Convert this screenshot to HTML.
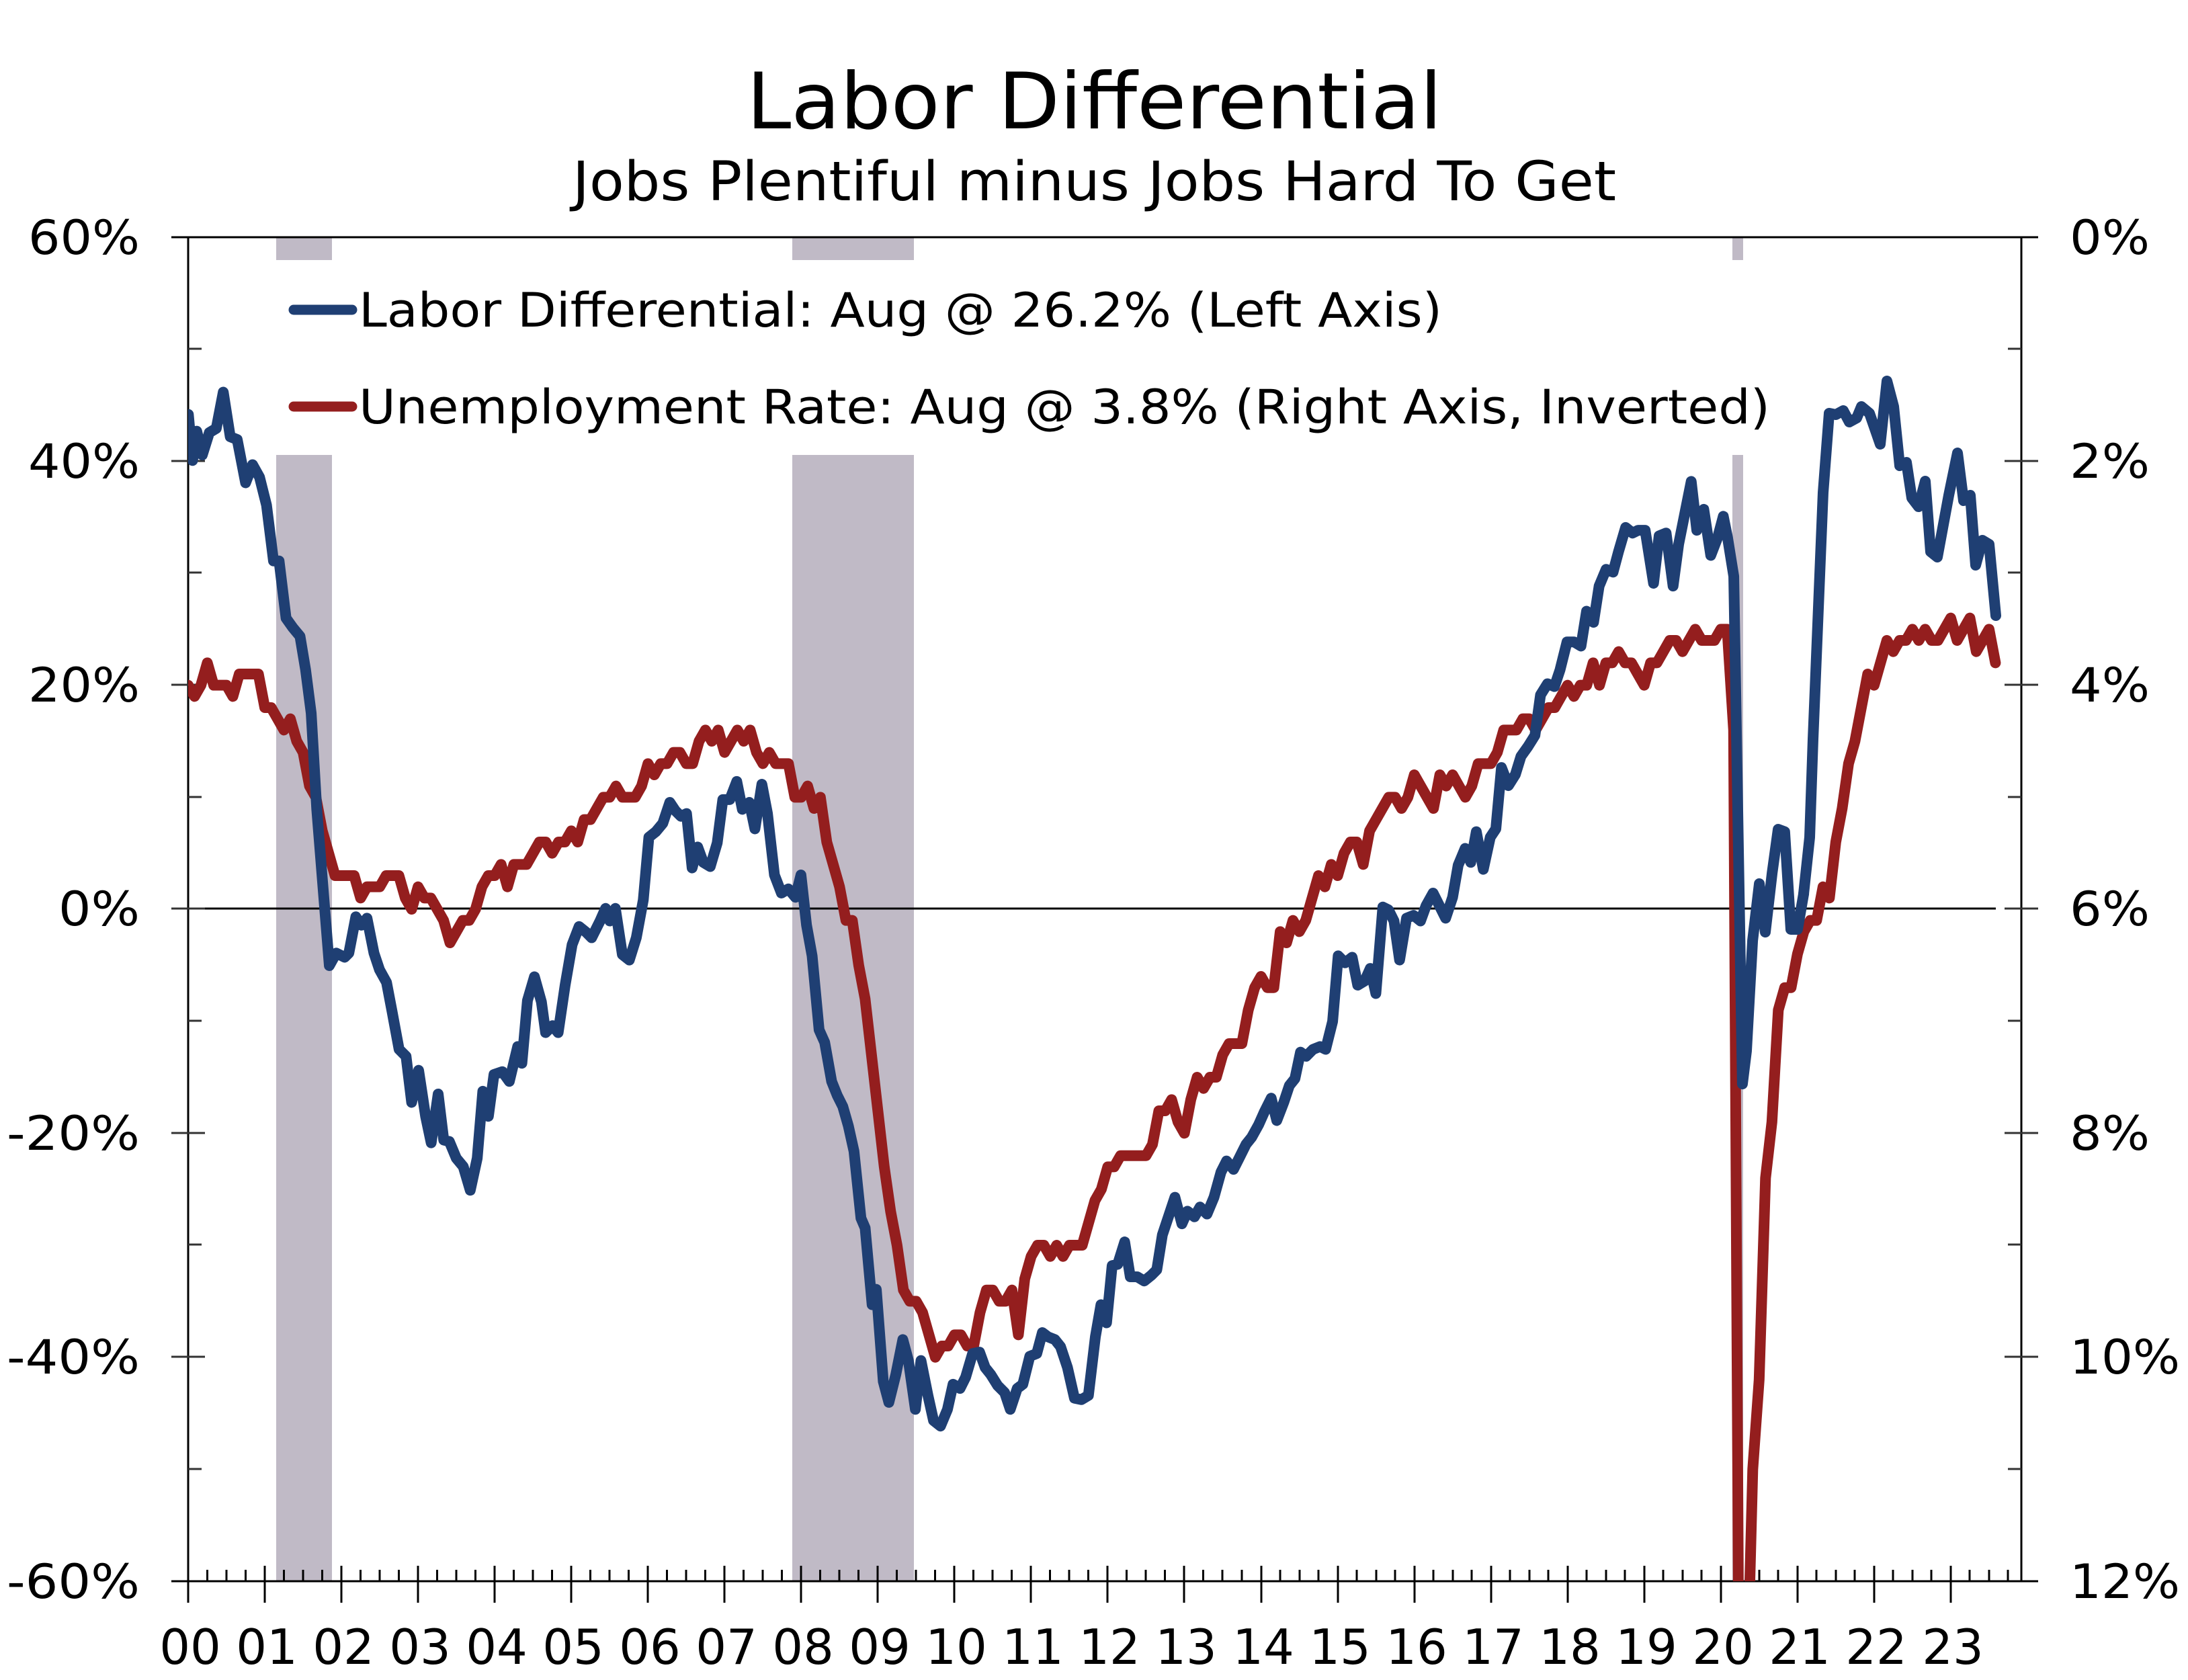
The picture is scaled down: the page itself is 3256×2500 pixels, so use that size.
<!DOCTYPE html>
<html><head><meta charset="utf-8"><style>
html,body{margin:0;padding:0;background:#fff;width:3256px;height:2500px;overflow:hidden}
svg{display:block;position:absolute;left:0;top:0}
text{font-family:"DejaVu Sans","Liberation Sans",sans-serif;fill:#000}
</style></head><body>
<svg width="3256" height="2500" viewBox="0 0 3256 2500" xmlns="http://www.w3.org/2000/svg">
<defs><clipPath id="pc"><rect x="280" y="353" width="2728" height="2000"/></clipPath></defs>
<g fill="#c0bac6">
<rect x="411" y="354" width="83" height="33"/><rect x="411" y="677" width="83" height="1676"/>
<rect x="1179" y="354" width="181" height="33"/><rect x="1179" y="677" width="181" height="1676"/>
<rect x="2578" y="354" width="16" height="33"/><rect x="2578" y="677" width="16" height="1676"/>
</g>
<g stroke="#000" stroke-width="3" fill="none">
<line x1="255" y1="353" x2="3033" y2="353"/>
<line x1="280" y1="353" x2="280" y2="2385"/>
<line x1="3008" y1="353" x2="3008" y2="2353"/>
<line x1="255" y1="2353" x2="3033" y2="2353"/>
<line x1="280" y1="1352" x2="2970" y2="1352"/>
</g>
<g stroke="#333" stroke-width="3">
<line x1="255" y1="686" x2="305" y2="686"/><line x1="255" y1="1019" x2="305" y2="1019"/><line x1="255" y1="1352" x2="305" y2="1352"/><line x1="255" y1="1686" x2="305" y2="1686"/><line x1="255" y1="2019" x2="305" y2="2019"/>
<line x1="280" y1="519" x2="300" y2="519"/><line x1="280" y1="852" x2="300" y2="852"/><line x1="280" y1="1186" x2="300" y2="1186"/><line x1="280" y1="1519" x2="300" y2="1519"/><line x1="280" y1="1852" x2="300" y2="1852"/><line x1="280" y1="2186" x2="300" y2="2186"/>
<line x1="2983" y1="686" x2="3033" y2="686"/><line x1="2983" y1="1019" x2="3033" y2="1019"/><line x1="2983" y1="1352" x2="3033" y2="1352"/><line x1="2983" y1="1686" x2="3033" y2="1686"/><line x1="2983" y1="2019" x2="3033" y2="2019"/>
<line x1="2988" y1="519" x2="3008" y2="519"/><line x1="2988" y1="852" x2="3008" y2="852"/><line x1="2988" y1="1186" x2="3008" y2="1186"/><line x1="2988" y1="1519" x2="3008" y2="1519"/><line x1="2988" y1="1852" x2="3008" y2="1852"/><line x1="2988" y1="2186" x2="3008" y2="2186"/>
</g>
<g stroke="#000" stroke-width="3">
<path d="M280 2330V2385M394 2330V2385M508 2330V2385M622 2330V2385M736 2330V2385M850 2330V2385M964 2330V2385M1078 2330V2385M1192 2330V2385M1306 2330V2385M1420 2330V2385M1534 2330V2385M1648 2330V2385M1762 2330V2385M1877 2330V2385M1991 2330V2385M2105 2330V2385M2219 2330V2385M2333 2330V2385M2447 2330V2385M2561 2330V2385M2675 2330V2385M2789 2330V2385M2903 2330V2385"/>
<path d="M308.5 2336V2353M337 2336V2353M365.5 2336V2353M422.5 2336V2353M451 2336V2353M479.5 2336V2353M536.5 2336V2353M565 2336V2353M593.5 2336V2353M650.5 2336V2353M679 2336V2353M707.5 2336V2353M764.5 2336V2353M793 2336V2353M821.5 2336V2353M878.5 2336V2353M907 2336V2353M935.5 2336V2353M992.5 2336V2353M1021 2336V2353M1049.5 2336V2353M1106.5 2336V2353M1135 2336V2353M1163.5 2336V2353M1220.5 2336V2353M1249 2336V2353M1277.5 2336V2353M1334.5 2336V2353M1363 2336V2353M1391.5 2336V2353M1448.5 2336V2353M1477 2336V2353M1505.5 2336V2353M1562.5 2336V2353M1591 2336V2353M1619.5 2336V2353M1676.5 2336V2353M1705 2336V2353M1733.5 2336V2353M1790.5 2336V2353M1819 2336V2353M1848 2336V2353M1905 2336V2353M1934 2336V2353M1962 2336V2353M2019 2336V2353M2048 2336V2353M2076 2336V2353M2133 2336V2353M2162 2336V2353M2190 2336V2353M2247 2336V2353M2276 2336V2353M2304 2336V2353M2361 2336V2353M2390 2336V2353M2418 2336V2353M2475 2336V2353M2504 2336V2353M2532 2336V2353M2589 2336V2353M2618 2336V2353M2646 2336V2353M2703 2336V2353M2732 2336V2353M2760 2336V2353M2817 2336V2353M2846 2336V2353M2874 2336V2353M2931 2336V2353M2960 2336V2353M2988 2336V2353"/>
</g>
<g clip-path="url(#pc)" fill="none" stroke-linejoin="round" stroke-linecap="round">
<polyline transform="translate(280,353) scale(9.5033,166.67)" vector-effect="non-scaling-stroke" stroke="#941e1e" stroke-width="16" points="0,4.0 1,4.1 2,4.0 3,3.8 4,4.0 5,4.0 6,4.0 7,4.1 8,3.9 9,3.9 10,3.9 11,3.9 12,4.2 13,4.2 14,4.3 15,4.4 16,4.3 17,4.5 18,4.6 19,4.9 20,5.0 21,5.3 22,5.5 23,5.7 24,5.7 25,5.7 26,5.7 27,5.9 28,5.8 29,5.8 30,5.8 31,5.7 32,5.7 33,5.7 34,5.9 35,6.0 36,5.8 37,5.9 38,5.9 39,6.0 40,6.1 41,6.3 42,6.2 43,6.1 44,6.1 45,6.0 46,5.8 47,5.7 48,5.7 49,5.6 50,5.8 51,5.6 52,5.6 53,5.6 54,5.5 55,5.4 56,5.4 57,5.5 58,5.4 59,5.4 60,5.3 61,5.4 62,5.2 63,5.2 64,5.1 65,5.0 66,5.0 67,4.9 68,5.0 69,5.0 70,5.0 71,4.9 72,4.7 73,4.8 74,4.7 75,4.7 76,4.6 77,4.6 78,4.7 79,4.7 80,4.5 81,4.4 82,4.5 83,4.4 84,4.6 85,4.5 86,4.4 87,4.5 88,4.4 89,4.6 90,4.7 91,4.6 92,4.7 93,4.7 94,4.7 95,5.0 96,5.0 97,4.9 98,5.1 99,5.0 100,5.4 101,5.6 102,5.8 103,6.1 104,6.1 105,6.5 106,6.8 107,7.3 108,7.8 109,8.3 110,8.7 111,9.0 112,9.4 113,9.5 114,9.5 115,9.6 116,9.8 117,10.0 118,9.9 119,9.9 120,9.8 121,9.8 122,9.9 123,9.9 124,9.6 125,9.4 126,9.4 127,9.5 128,9.5 129,9.4 130,9.8 131,9.3 132,9.1 133,9.0 134,9.0 135,9.1 136,9.0 137,9.1 138,9.0 139,9.0 140,9.0 141,8.8 142,8.6 143,8.5 144,8.3 145,8.3 146,8.2 147,8.2 148,8.2 149,8.2 150,8.2 151,8.1 152,7.8 153,7.8 154,7.7 155,7.9 156,8.0 157,7.7 158,7.5 159,7.6 160,7.5 161,7.5 162,7.3 163,7.2 164,7.2 165,7.2 166,6.9 167,6.7 168,6.6 169,6.7 170,6.7 171,6.2 172,6.3 173,6.1 174,6.2 175,6.1 176,5.9 177,5.7 178,5.8 179,5.6 180,5.7 181,5.5 182,5.4 183,5.4 184,5.6 185,5.3 186,5.2 187,5.1 188,5.0 189,5.0 190,5.1 191,5.0 192,4.8 193,4.9 194,5.0 195,5.1 196,4.8 197,4.9 198,4.8 199,4.9 200,5.0 201,4.9 202,4.7 203,4.7 204,4.7 205,4.6 206,4.4 207,4.4 208,4.4 209,4.3 210,4.3 211,4.4 212,4.3 213,4.2 214,4.2 215,4.1 216,4.0 217,4.1 218,4.0 219,4.0 220,3.8 221,4.0 222,3.8 223,3.8 224,3.7 225,3.8 226,3.8 227,3.9 228,4.0 229,3.8 230,3.8 231,3.7 232,3.6 233,3.6 234,3.7 235,3.6 236,3.5 237,3.6 238,3.6 239,3.6 240,3.5 241,3.5 242,4.4 243,14.7 244,13.2 245,11.0 246,10.2 247,8.4 248,7.9 249,6.9 250,6.7 251,6.7 252,6.4 253,6.2 254,6.1 255,6.1 256,5.8 257,5.9 258,5.4 259,5.1 260,4.7 261,4.5 262,4.2 263,3.9 264,4.0 265,3.8 266,3.6 267,3.7 268,3.6 269,3.6 270,3.5 271,3.6 272,3.5 273,3.6 274,3.6 275,3.5 276,3.4 277,3.6 278,3.5 279,3.4 280,3.7 281,3.6 282,3.5 283,3.8"/>
<polyline transform="scale(2.0765)" vector-effect="non-scaling-stroke" stroke="#1f3f73" stroke-width="16" points="135,297 138,330 141,309 145,326 150,310 155,307 160,281 165,313 170,315 176,346 181,333 186,342 191,362 196,402 200,402 205,443 210,450 215,456 219,480 223,511 227,580 231,630 236,692 241,683 247,686 250,683 255,657 259,663 263,658 268,683 272,695 277,704 281,725 286,752 291,757 295,790 300,767 305,800 309,819 314,784 318,817 322,818 327,830 332,836 337,853 342,830 346,782 350,800 354,770 360,768 365,775 371,750 374,762 378,717 383,700 388,718 391,740 396,735 400,740 405,706 410,677 415,664 420,668 424,672 430,660 434,651 437,660 441,651 446,684 451,688 456,672 461,645 465,600 470,596 475,590 480,575 484,581 488,585 492,583 496,622 500,607 504,618 509,621 514,604 518,573 523,573 528,560 532,580 537,575 541,594 546,562 550,583 555,627 560,640 565,637 570,643 574,627 578,663 582,685 587,738 591,747 596,775 600,785 604,793 608,807 612,825 617,873 620,880 625,935 628,924 633,990 637,1005 642,985 647,960 651,975 656,1010 660,975 665,1000 669,1018 674,1022 679,1010 683,992 688,995 692,987 697,970 702,969 706,980 710,985 715,993 720,998 724,1010 729,995 733,992 738,972 743,970 747,955 751,958 756,960 760,965 765,980 770,1002 775,1003 780,1000 785,958 789,935 793,948 797,907 801,906 806,890 810,915 815,915 820,918 825,914 829,910 833,885 838,870 842,858 847,877 851,868 856,872 860,865 865,870 870,858 875,840 879,832 884,838 888,830 893,820 897,815 902,806 906,797 911,787 915,803 920,790 924,778 928,773 932,754 936,757 941,752 946,750 950,752 955,732 959,685 964,690 969,686 973,706 978,703 982,694 986,712 991,650 995,652 999,660 1003,688 1008,658 1013,656 1018,660 1022,649 1027,640 1032,650 1036,658 1041,643 1045,620 1050,608 1054,618 1058,596 1063,623 1068,600 1072,594 1076,550 1081,563 1086,555 1090,542 1095,535 1100,527 1104,498 1109,490 1114,492 1118,480 1123,460 1128,460 1133,463 1137,438 1142,446 1146,420 1151,408 1156,410 1160,395 1165,378 1170,382 1174,380 1179,380 1185,418 1189,384 1194,382 1199,420 1203,390 1208,365 1212,345 1216,380 1221,365 1226,398 1231,385 1235,370 1238,385 1242.5,413 1248.7,776.8 1251.6,753.2 1256,674 1260.8,633.3 1265.1,668 1270,625.6 1274.3,594.3 1279,596 1283.4,666 1288.2,666 1292.6,640.5"/>
<polyline stroke="#1f3f73" stroke-width="16" points="2684,1330 2693,1246 2698,1100 2713,733 2722,615 2732,617 2743,611 2752,628 2763,622 2770,605 2782,615 2798,661 2808,567 2818,605 2827,693 2837,688 2845,741 2855,754 2865,716 2873,821 2883,829 2900,737 2913,674 2922,745 2932,737 2940,841 2950,804 2960,810 2970,916"/>
</g>
<g stroke-width="15" stroke-linecap="round">
<line x1="437" y1="461" x2="524" y2="461" stroke="#1f3f73"/>
<line x1="437" y1="605" x2="524" y2="605" stroke="#941e1e"/>
</g>
<text x="534" y="486" font-size="70" textLength="1612" lengthAdjust="spacingAndGlyphs">Labor Differential: Aug @ 26.2% (Left Axis)</text>
<text x="534" y="630" font-size="70" textLength="2100" lengthAdjust="spacingAndGlyphs">Unemployment Rate: Aug @ 3.8% (Right Axis, Inverted)</text>
<text x="1111" y="191" font-size="116" textLength="1035" lengthAdjust="spacingAndGlyphs">Labor Differential</text>
<text x="852" y="298" font-size="81" textLength="1553" lengthAdjust="spacingAndGlyphs">Jobs Plentiful minus Jobs Hard To Get</text>
<g font-size="70">
<text x="42" y="378" textLength="166" lengthAdjust="spacingAndGlyphs">60%</text>
<text x="42" y="711" textLength="166" lengthAdjust="spacingAndGlyphs">40%</text>
<text x="42" y="1044" textLength="166" lengthAdjust="spacingAndGlyphs">20%</text>
<text x="87" y="1377" textLength="121" lengthAdjust="spacingAndGlyphs">0%</text>
<text x="10" y="1711" textLength="198" lengthAdjust="spacingAndGlyphs">-20%</text>
<text x="10" y="2044" textLength="198" lengthAdjust="spacingAndGlyphs">-40%</text>
<text x="10" y="2378" textLength="198" lengthAdjust="spacingAndGlyphs">-60%</text>
<text x="3080" y="378" textLength="119" lengthAdjust="spacingAndGlyphs">0%</text>
<text x="3080" y="711" textLength="119" lengthAdjust="spacingAndGlyphs">2%</text>
<text x="3080" y="1044" textLength="119" lengthAdjust="spacingAndGlyphs">4%</text>
<text x="3080" y="1377" textLength="119" lengthAdjust="spacingAndGlyphs">6%</text>
<text x="3080" y="1711" textLength="119" lengthAdjust="spacingAndGlyphs">8%</text>
<text x="3080" y="2044" textLength="164" lengthAdjust="spacingAndGlyphs">10%</text>
<text x="3080" y="2378" textLength="164" lengthAdjust="spacingAndGlyphs">12%</text>
</g>
<g font-size="72" text-anchor="middle">
<text x="283" y="2476">00</text><text x="397" y="2476">01</text><text x="511" y="2476">02</text><text x="625" y="2476">03</text><text x="739" y="2476">04</text><text x="853" y="2476">05</text><text x="967" y="2476">06</text><text x="1081" y="2476">07</text><text x="1195" y="2476">08</text><text x="1309" y="2476">09</text><text x="1423" y="2476">10</text><text x="1537" y="2476">11</text><text x="1651" y="2476">12</text><text x="1765" y="2476">13</text><text x="1880" y="2476">14</text><text x="1994" y="2476">15</text><text x="2108" y="2476">16</text><text x="2222" y="2476">17</text><text x="2336" y="2476">18</text><text x="2450" y="2476">19</text><text x="2564" y="2476">20</text><text x="2678" y="2476">21</text><text x="2792" y="2476">22</text><text x="2906" y="2476">23</text>
</g>
</svg>
</body></html>
